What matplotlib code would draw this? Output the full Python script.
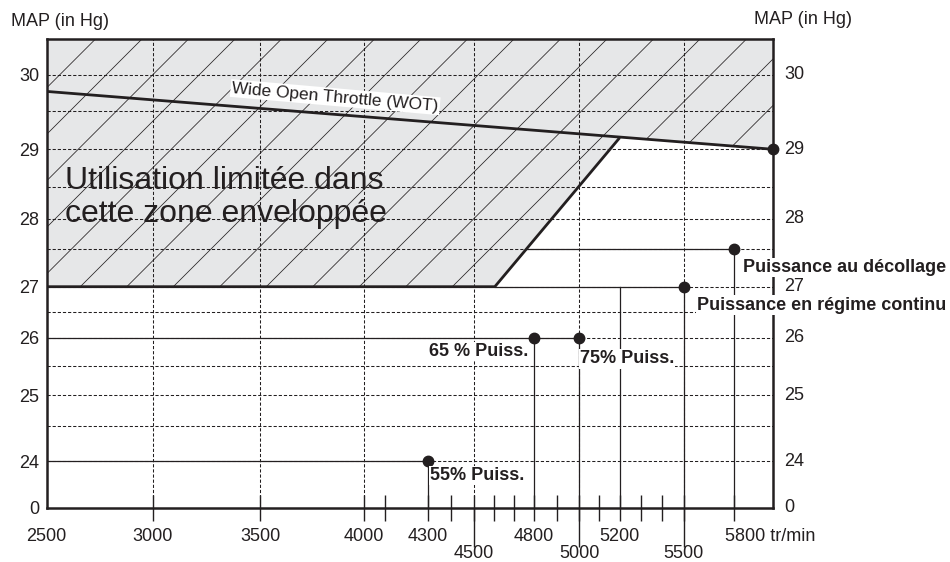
import numpy as np
import matplotlib
matplotlib.use("Agg")
import matplotlib.pyplot as plt

plt.rcParams['font.family'] = ['Liberation Sans', 'DejaVu Sans']
plt.rcParams['lines.scale_dashes'] = False

# ---------------- data ----------------
rpm_labels_top = [2500, 3000, 3500, 4000, 4300, 4800, 5200]
rpm_labels_low = [4500, 5000, 5500]
rpm_last_label = 5800
rpm_unit = "tr/min"
rpm_short_ticks = [3000, 3500, 4000, 4100, 4300, 4400, 4600, 4700, 4800,
                   4900, 5100, 5200, 5300, 5400, 5800]
rpm_long_ticks = [4500, 5000, 5500]
map_ticks = [0, 24, 25, 26, 27, 28, 29, 30]
grid_rpm = [3000, 3500, 4000, 4500, 5000, 5500]
grid_map = [24, 24.5, 25, 25.5, 26, 26.5, 27, 27.5, 28, 28.5, 29, 29.5, 30]

wot_rpm = [2500, 6040]
wot_map = [29.77, 29.0]
limit_rpm = [2500, 4605, 5200]          # lower/right edge of restricted zone
limit_map = [27.0, 27.0, 29.15]
zone_rpm = [2500, 2500, 4605, 5200, 6040, 6040]
zone_map = [30.5, 27.0, 27.0, 29.15, 29.0, 30.5]

point_names = ['55% Puiss.', '65 % Puiss.', '75% Puiss.',
               'Puissance en régime continu', 'Puissance au décollage']
point_rpm = [4300, 4800, 5000, 5500, 5800]
point_map = [24, 26, 26, 27, 27.5]
hline_start_rpm = [2500, 2500, 4800, 4605, 4760]
extra_vline_rpm = [5200]
extra_vline_map = [27]

# ---------------- scale calibration (drawing is hand-made, not linear) ----------------
x_cal_rpm = [2500, 3000, 3500, 4000, 4300, 4500, 4800, 5000, 5200, 5500, 5800, 6040]
x_cal_px = np.array([46.7, 152.7, 260.3, 364.3, 427.7, 473.7, 534.0, 579.3, 619.7, 683.7, 733.7, 773.3])
y_cal_map = [0, 24, 24.5, 25, 25.5, 26, 26.5, 27, 27.5, 28, 28.5, 29, 29.5, 30, 30.5]
y_cal_px = -np.array([507.7, 461.3, 425.7, 395.3, 365.7, 337.7, 312.3, 286.7, 249.3,
                      219.0, 186.7, 149.3, 110.7, 75.0, 39.0])

def fx(v):
    return np.interp(v, x_cal_rpm, x_cal_px)
def ix(v):
    return np.interp(v, x_cal_px, x_cal_rpm)
def fy(v):
    return np.interp(v, y_cal_map, y_cal_px)
def iy(v):
    return np.interp(v, y_cal_px, y_cal_map)

W, H = 950, 562
L, R, B, T = 46.7, 773.3, 507.7, 39.0
fig = plt.figure(figsize=(W / 100, H / 100), dpi=100)
ax = fig.add_axes([L / W, 1 - B / H, (R - L) / W, (B - T) / H])
ax.set_xscale('function', functions=(fx, ix))
ax.set_yscale('function', functions=(fy, iy))
ax.set_xlim(x_cal_rpm[0], x_cal_rpm[-1])
ax.set_ylim(y_cal_map[0], y_cal_map[-1])

INK = '#231f20'
FS = 13

# restricted zone
zone = ax.fill(zone_rpm, zone_map, facecolor='#e6e7e8', edgecolor='none', zorder=1)[0]

# hatch lines at 45 degrees, clipped to the zone
r = (B - T) / (R - L)
step = 46.5 / (R - L)
u0 = (80 - L) / (R - L) - ((B - 287.0) / (B - T)) * r
ks = np.arange(-40, 40)
for k in ks:
    u = u0 + k * step
    if u < -r - 0.1 or u > 1.05:
        continue
    ln, = ax.plot([u, u + r], [0, 1], transform=ax.transAxes, color=INK,
                  lw=0.55, zorder=1.5)
    ln.set_clip_path(zone)

# dashed grid
dash = (0, (2.3, 1.4))
for v in grid_map:
    ax.axhline(v, color=INK, lw=0.75, ls=dash, zorder=2)
for v in grid_rpm:
    ax.axvline(v, color=INK, lw=0.75, ls=dash, zorder=2)

# solid reference lines to the points
for x0, xp, yp in zip(hline_start_rpm, point_rpm, point_map):
    ax.plot([x0, xp], [yp, yp], color=INK, lw=0.9, zorder=3)
    ax.plot([xp, xp], [yp, 0], color=INK, lw=0.9, zorder=3)
for xv, yv in zip(extra_vline_rpm, extra_vline_map):
    ax.plot([xv, xv], [yv, 0], color=INK, lw=0.9, zorder=3)

# zone boundary and WOT line
ax.plot(limit_rpm, limit_map, color=INK, lw=2.0, zorder=4, solid_capstyle='butt')
ax.plot(wot_rpm, wot_map, color=INK, lw=2.0, zorder=4, solid_capstyle='butt')

# points
ax.plot(point_rpm, point_map, 'o', color=INK, ms=7.5, zorder=5, clip_on=False)
ax.plot([wot_rpm[-1]], [wot_map[-1]], 'o', color=INK, ms=7.5, zorder=5, clip_on=False)

# point labels
offsets = [(1.7, -10.4, 'left'), (-4.3, -10.0, 'right'), (0.5, -15.3, 'left'),
           (9.4, -13.2, 'left'), (6.5, -13.0, 'left')]
for name, xp, yp, (dx, dy, ha) in zip(point_names, point_rpm, point_map, offsets):
    ax.annotate(name, (xp, yp), xytext=(dx, dy), textcoords='offset points',
                ha=ha, va='center', fontsize=FS, fontweight='bold', color=INK,
                zorder=6, bbox=dict(facecolor='white', edgecolor='none', pad=0.8))

# zone texts
ax.text(3860, 29.69, 'Wide Open Throttle (WOT)', rotation=-5, ha='center', va='center',
        fontsize=12.5, color=INK, zorder=6, rotation_mode='anchor',
        bbox=dict(facecolor='white', edgecolor='none', pad=1.0))
# va='baseline' on a two-line text anchors the last line's baseline
ax.text((65 - L) / (R - L), (B - 221.7) / (B - T), 'Utilisation limitée dans\ncette zone enveloppée',
        transform=ax.transAxes, ha='left', va='baseline', fontsize=23, color=INK,
        linespacing=1.13, zorder=6)

# spines
for s in ax.spines.values():
    s.set_linewidth(1.8)
    s.set_color(INK)
    s.set_zorder(4.5)

# x ticks
ax.set_xticks(rpm_long_ticks)
ax.set_xticks(rpm_short_ticks + rpm_long_ticks, minor=True)
ax.xaxis.remove_overlapping_locs = False
ax.tick_params(axis='x', which='major', direction='out', length=28, width=1.0,
               color=INK, labelbottom=False)
ax.tick_params(axis='x', which='minor', direction='inout', length=18.7, width=1.0,
               color=INK, labelbottom=False)
xtr = ax.get_xaxis_transform()
for v in rpm_labels_top:
    ax.annotate(str(v), (v, 0), xycoords=xtr, xytext=(0, -21), textcoords='offset points',
                ha='center', va='center', fontsize=FS, color=INK, annotation_clip=False)
for v in rpm_labels_low:
    ax.annotate(str(v), (v, 0), xycoords=xtr, xytext=(0, -33.0), textcoords='offset points',
                ha='center', va='center', fontsize=FS, color=INK, annotation_clip=False)
ax.annotate(f'{rpm_last_label} {rpm_unit}', (rpm_last_label, 0), xycoords=xtr,
            xytext=(-6.5, -21), textcoords='offset points', ha='left', va='center',
            fontsize=FS, color=INK, annotation_clip=False)

# y ticks
ax.set_yticks(map_ticks)
ax.set_yticklabels([str(v) for v in map_ticks])
ax.tick_params(axis='y', length=0, pad=5.3, labelsize=FS, labelcolor=INK)
ytr = ax.get_yaxis_transform()
for v in map_ticks:
    ax.annotate(str(v), (1, v), xycoords=ytr, xytext=(7.7, 0), textcoords='offset points',
                ha='left', va='center', fontsize=FS, color=INK, annotation_clip=False)

fig.text(11 / W, 1 - 21.7 / H, 'MAP (in Hg)', ha='left', va='center', fontsize=FS, color=INK)
fig.text(754 / W, 1 - 19 / H, 'MAP (in Hg)', ha='left', va='center', fontsize=FS, color=INK)

fig.savefig('out.png', dpi=100)
